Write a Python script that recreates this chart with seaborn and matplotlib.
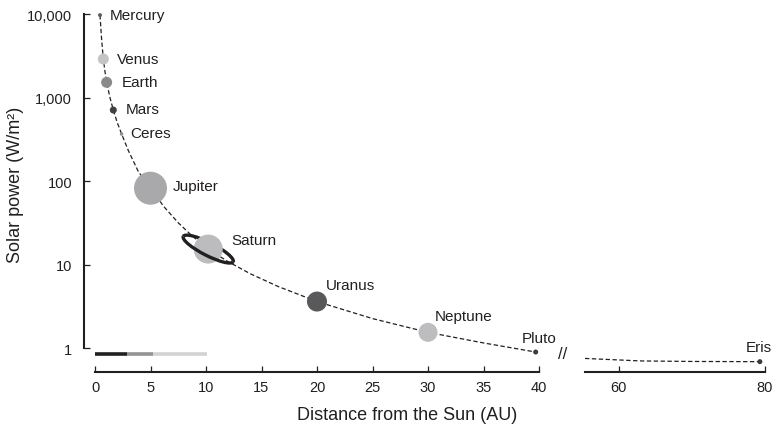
import numpy as np
import pandas as pd
import matplotlib
matplotlib.use("Agg")
import matplotlib.pyplot as plt
import matplotlib.transforms as mtransforms
from matplotlib.patches import Arc
from matplotlib.ticker import FixedLocator, FixedFormatter, NullLocator
import seaborn as sns

# ---------------- data ----------------
planets = ["Mercury", "Venus", "Earth", "Mars", "Ceres", "Jupiter",
           "Saturn", "Uranus", "Neptune", "Pluto", "Eris"]
distance_au = [0.45, 0.75, 1.05, 1.65, 2.4, 5.0, 10.2, 20.0, 30.0, 39.7, 79.3]
solar_power = [9700, 2890, 1520, 708, 365, 82, 15.3, 3.6, 1.54, 0.895, 0.686]

curve_left_x = [0.45, 0.6, 0.75, 0.9, 1.05, 1.35, 1.65, 2.0, 2.4, 3.0, 3.9,
                5.0, 6.2, 7.5, 8.7, 10.2, 12.0, 14.0, 16.5, 20.0, 25.0,
                30.0, 35.0, 39.7]
curve_left_y = [9700, 4900, 2890, 2040, 1520, 995, 708, 503, 365, 232, 130,
                82, 49.4, 31.6, 22.3, 15.3, 10.8, 7.74, 5.45, 3.6, 2.25,
                1.54, 1.15, 0.895]
curve_right_x = [55.4, 63.0, 70.0, 79.3]
curve_right_y = [0.75, 0.70, 0.69, 0.686]

zone_start = [0.0, 2.85, 5.2]
zone_end = [2.85, 5.2, 10.1]
zone_level = 0.847

y_ticks = [1, 10, 100, 1000, 10000]
y_tick_labels = ["1", "10", "100", "1,000", "10,000"]
x_ticks_left = [0, 5, 10, 15, 20, 25, 30, 35, 40]
x_ticks_right = [60, 80]

# ---------------- styles ----------------
ink = "#231f20"
planet_colors = {"Mercury": "#5e5e60", "Venus": "#c4c4c6", "Earth": "#8a8a8c",
                 "Mars": "#414143", "Ceres": "#8f8f91", "Jupiter": "#a9a9ab",
                 "Saturn": "#bcbcbe", "Uranus": "#59595b", "Neptune": "#bdbdbf",
                 "Pluto": "#3a3a3c", "Eris": "#3a3a3c"}
diam_px = {"Mercury": 4, "Venus": 11, "Earth": 11, "Mars": 7, "Ceres": 3.5,
           "Jupiter": 33, "Saturn": 29, "Uranus": 20, "Neptune": 19,
           "Pluto": 5, "Eris": 5}
planet_sizes = {k: (v * 0.72) ** 2 for k, v in diam_px.items()}
label_offsets = {"Mercury": (10, 0), "Venus": (14, 0), "Earth": (15, 0),
                 "Mars": (12, 1), "Ceres": (9, 1), "Jupiter": (22, 2.5),
                 "Saturn": (23, 9), "Uranus": (9, 17), "Neptune": (7, 16.5),
                 "Pluto": (-14, 14), "Eris": (-14, 14.5)}
zone_colors = ["#231f20", "#939395", "#d3d3d5"]

sns.set_style("ticks")
plt.rcParams["font.family"] = ["Liberation Sans", "DejaVu Sans"]
plt.rcParams["text.color"] = ink
plt.rcParams["axes.labelcolor"] = ink

df = pd.DataFrame({"planet": planets, "distance": distance_au, "power": solar_power})

W, H = 775, 431
fig = plt.figure(figsize=(W / 100, H / 100), dpi=100)

ylo = 10 ** (-0.2874)
yhi = 10 ** (4.1198)
ax1 = fig.add_axes([95 / W, (H - 373) / H, 444 / W, 368 / H])
ax2 = fig.add_axes([585 / W, (H - 373) / H, 180 / W, 368 / H], sharey=ax1)

for ax in (ax1, ax2):
    ax.set_yscale("log")
ax1.set_ylim(ylo, yhi)
ax1.set_xlim(0, 40)
ax2.set_xlim(55.4, 80)

# dashed curve
sns.lineplot(x=curve_left_x, y=curve_left_y, ax=ax1, color=ink, lw=0.9,
             linestyle=(0, (3.5, 2)), sort=False, zorder=2, estimator=None)
sns.lineplot(x=curve_right_x, y=curve_right_y, ax=ax2, color=ink, lw=0.9,
             linestyle=(0, (3.5, 2)), sort=False, zorder=2, estimator=None)

# planets
left_df = df[df["distance"] <= 40]
right_df = df[df["distance"] > 40]
sns.scatterplot(data=left_df, x="distance", y="power", hue="planet",
                palette={p: planet_colors[p] for p in left_df["planet"]},
                size="planet", sizes={p: planet_sizes[p] for p in left_df["planet"]},
                legend=False, ax=ax1, edgecolor="none", linewidth=0, zorder=3,
                clip_on=False)
sns.scatterplot(data=right_df, x="distance", y="power", hue="planet",
                palette={p: planet_colors[p] for p in right_df["planet"]},
                size="planet", sizes={p: planet_sizes[p] for p in right_df["planet"]},
                legend=False, ax=ax2, edgecolor="none", linewidth=0, zorder=3,
                clip_on=False)

# labels
for _, r in df.iterrows():
    ax = ax1 if r["distance"] <= 40 else ax2
    ax.annotate(r["planet"], (r["distance"], r["power"]),
                xytext=label_offsets[r["planet"]], textcoords="offset pixels",
                ha="left", va="center", fontsize=11, color=ink,
                annotation_clip=False)

# Saturn ring
sat_x = distance_au[planets.index("Saturn")]
sat_y = solar_power[planets.index("Saturn")]
ring_tr = mtransforms.Affine2D() + mtransforms.ScaledTranslation(sat_x, sat_y, ax1.transData)
ring_back = Arc((0, 0), 56, 13, angle=-27, theta1=0, theta2=180,
                transform=ring_tr, color=ink, lw=2.4, zorder=2.5, clip_on=False)
ring_front = Arc((0, 0), 56, 13, angle=-27, theta1=180, theta2=360,
                 transform=ring_tr, color=ink, lw=2.4, zorder=4, clip_on=False)
ax1.add_patch(ring_back)
ax1.add_patch(ring_front)

# zone bar
for s, e, c in zip(zone_start, zone_end, zone_colors):
    ax1.hlines(zone_level, s, e, color=c, lw=2.6, zorder=2,
               capstyle="butt")

# axes styling
for ax in (ax1, ax2):
    ax.spines["top"].set_visible(False)
    ax.spines["right"].set_visible(False)
    ax.spines["bottom"].set_linewidth(1.5)
    ax.spines["bottom"].set_color(ink)
    ax.spines["left"].set_linewidth(1.5)
    ax.spines["left"].set_color(ink)
    ax.tick_params(axis="both", direction="in", length=4.3, width=0.9,
                   colors=ink, labelsize=10.5)
    ax.yaxis.set_minor_locator(NullLocator())
    ax.set_xlabel("")
    ax.set_ylabel("")

ax1.spines["left"].set_position(("outward", 8))
ax1.spines["left"].set_bounds(1, 10000)
ax1.spines["bottom"].set_bounds(0, 40)
ax1.yaxis.set_major_locator(FixedLocator(y_ticks))
ax1.yaxis.set_major_formatter(FixedFormatter(y_tick_labels))
ax1.xaxis.set_major_locator(FixedLocator(x_ticks_left))
ax1.tick_params(axis="y", pad=8.5)
ax1.tick_params(axis="x", pad=6)

ax2.spines["left"].set_visible(False)
ax2.tick_params(axis="y", left=False, labelleft=False)
ax2.xaxis.set_major_locator(FixedLocator(x_ticks_right))
ax2.tick_params(axis="x", pad=6)

fig.text(16 / W, 1 - 185 / H, "Solar power (W/m\u00b2)", fontsize=13,
         rotation=90, ha="center", va="center", color=ink)
fig.text(407 / W, 1 - 416 / H, "Distance from the Sun (AU)", fontsize=13,
         ha="center", va="center", color=ink)
fig.text(563 / W, 1 - 355 / H, "//", fontsize=12, ha="center", va="center",
         color=ink)

fig.savefig("out.png", dpi=100)
